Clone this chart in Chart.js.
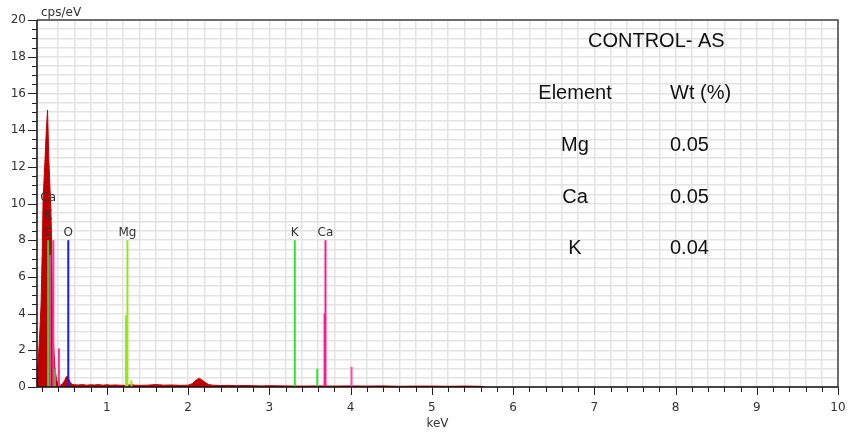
<!DOCTYPE html>
<html>
<head>
<meta charset="utf-8">
<script src="https://cdn.jsdelivr.net/npm/chart.js@4/dist/chart.umd.min.js"></script>
<style>
  body { margin: 0; background: #fff; }
  #wrap { width: 849px; height: 435px; }
</style>
</head>
<body>
<div id="wrap"><canvas id="eds" width="849" height="435"></canvas></div>
<script>
// spectrum (keV -> cps/eV)
var energy = [0.14, 0.15, 0.16, 0.175, 0.19, 0.205, 0.215, 0.24, 0.255, 0.27, 0.285, 0.30, 0.31, 0.32, 0.33, 0.345, 0.36, 0.38, 0.40, 0.43,
    0.46, 0.48, 0.50, 0.515, 0.53, 0.55, 0.57, 0.60, 0.65, 0.70, 0.75, 0.80, 0.85, 0.90, 0.95, 1.00, 1.05, 1.10, 1.15, 1.20,
    1.25, 1.30, 1.35, 1.40, 1.50, 1.60, 1.65, 1.70, 1.80, 1.90, 2.00, 2.05, 2.10, 2.13, 2.16, 2.20, 2.25, 2.30, 2.40, 2.50,
    2.60, 2.70, 2.80, 2.90, 3.00, 3.20, 3.40, 3.60, 3.80, 4.00, 4.20, 4.40, 4.60, 4.80, 5.00, 5.20, 5.40, 5.60, 5.65];
var counts = [0.6, 1.1, 1.8, 3.0, 4.5, 7.5, 10.2, 12.5, 14.0, 15.1, 12.5, 10.8, 9.8, 7.8, 4.2, 2.2, 1.1, 0.4, 0.15, 0.1,
    0.2, 0.35, 0.55, 0.6, 0.45, 0.25, 0.15, 0.12, 0.11, 0.13, 0.1, 0.12, 0.11, 0.13, 0.1, 0.12, 0.1, 0.11, 0.1, 0.09,
    0.1, 0.12, 0.1, 0.09, 0.1, 0.13, 0.12, 0.1, 0.11, 0.09, 0.1, 0.18, 0.38, 0.47, 0.42, 0.28, 0.14, 0.1, 0.08, 0.09,
    0.07, 0.08, 0.07, 0.06, 0.07, 0.06, 0.05, 0.06, 0.05, 0.06, 0.05, 0.06, 0.04, 0.05, 0.05, 0.04, 0.05, 0.04, 0];

// element line markers
var markerKeV = [0.277, 0.302, 0.341, 0.36, 0.41, 0.525, 1.235, 1.253, 1.302, 3.313, 3.59, 3.68, 3.691, 4.012];
var markerHeight = [8.0, 7.2, 8.0, 1.0, 2.1, 8.0, 3.9, 8.0, 0.35, 8.0, 1.0, 4.0, 8.0, 1.1];
var markerColor = ['#2fd82f', '#ff3399', '#ff3399', '#2fd82f', '#ff3399', '#1a1aff', '#99e619', '#99e619', '#99e619',
    '#33e033', '#33e033', '#ff1a8c', '#ff1a8c', '#ff4da6'];

// marker captions (text, keV, stack level)
var captionText = ['C', 'K', 'Ca', 'O', 'Mg', 'K', 'Ca'];
var captionKeV = [0.277, 0.277, 0.277, 0.525, 1.253, 3.313, 3.691];
var captionLevel = [0, 1, 2, 0, 0, 0, 0];

// composition table
var tableTitle = 'CONTROL- AS';
var tableElements = ['Mg', 'Ca', 'K'];
var tableWt = ['0.05', '0.05', '0.04'];

var spectrum = energy.map(function(e, i) { return { x: e, y: counts[i] }; });

var datasets = [];
for (var i = 0; i < markerKeV.length; i++) {
    datasets.push({
        data: [{ x: markerKeV[i], y: 0 }, { x: markerKeV[i], y: markerHeight[i] }],
        borderColor: markerColor[i],
        borderWidth: 2,
        pointRadius: 0,
        fill: false,
        order: 0
    });
}
datasets.push({
    data: spectrum,
    borderColor: '#c00000',
    backgroundColor: '#c00000',
    borderWidth: 1,
    pointRadius: 0,
    tension: 0,
    fill: 'origin',
    order: 1
});

var FONT = '"DejaVu Sans", sans-serif';

var overlay = {
    id: 'overlay',
    afterDraw: function(chart) {
        var ctx = chart.ctx, a = chart.chartArea;
        var xs = chart.scales.x, ys = chart.scales.y;
        ctx.save();

        // frame
        ctx.strokeStyle = '#444';
        ctx.lineWidth = 1.5;
        ctx.beginPath();
        ctx.moveTo(a.left, a.top); ctx.lineTo(a.right, a.top); ctx.lineTo(a.right, a.bottom);
        ctx.stroke();
        ctx.strokeStyle = '#111';
        ctx.lineWidth = 1.5;
        ctx.beginPath();
        ctx.moveTo(a.left, a.top); ctx.lineTo(a.left, a.bottom); ctx.lineTo(a.right, a.bottom);
        ctx.stroke();

        // tick marks
        ctx.strokeStyle = '#222';
        ctx.lineWidth = 1;
        ctx.beginPath();
        for (var v = 0; v <= 20.001; v += 0.5) {
            var py = Math.round(ys.getPixelForValue(v)) + 0.5;
            var len = Math.abs(v / 2 - Math.round(v / 2)) < 1e-6 ? 9 : 5;
            ctx.moveTo(a.left - len, py); ctx.lineTo(a.left, py);
        }
        for (var k = 1; k <= 50; k++) {
            var e = k * 0.2;
            var px = Math.round(xs.getPixelForValue(e)) + 0.5;
            var l2 = k % 5 === 0 ? 8 : 5;
            ctx.moveTo(px, a.bottom); ctx.lineTo(px, a.bottom + l2);
        }
        ctx.stroke();

        // axis titles
        ctx.fillStyle = '#333';
        ctx.font = '12px ' + FONT;
        ctx.textAlign = 'left';
        ctx.textBaseline = 'alphabetic';
        ctx.fillText('cps/eV', 41, 16);
        ctx.textAlign = 'center';
        ctx.fillText('keV', (a.left + a.right) / 2, 427);

        // marker captions
        for (var c = 0; c < captionText.length; c++) {
            var cx = xs.getPixelForValue(captionKeV[c]);
            var cy = ys.getPixelForValue(8) - 4 - captionLevel[c] * 17.5;
            ctx.fillText(captionText[c], cx, cy);
        }

        // table
        ctx.fillStyle = '#111';
        ctx.font = '20px "Liberation Sans", Arial, sans-serif';
        ctx.textAlign = 'left';
        ctx.fillText(tableTitle, 588, 47);
        ctx.textAlign = 'center';
        ctx.fillText('Element', 575, 99);
        ctx.textAlign = 'left';
        ctx.fillText('Wt (%)', 670, 99);
        for (var r = 0; r < tableElements.length; r++) {
            var by = 151 + r * 51.5;
            ctx.textAlign = 'center';
            ctx.fillText(tableElements[r], 575, by);
            ctx.textAlign = 'left';
            ctx.fillText(tableWt[r], 670, by);
        }
        ctx.restore();
    }
};

new Chart(document.getElementById('eds').getContext('2d'), {
    type: 'line',
    data: { datasets: datasets },
    options: {
        responsive: false,
        animation: false,
        devicePixelRatio: 1,
        layout: { padding: { top: 20, right: 11, left: 0, bottom: 0 } },
        plugins: { legend: { display: false }, tooltip: { enabled: false } },
        scales: {
            x: {
                type: 'linear',
                min: 0.14,
                max: 10,
                afterFit: function(s) { s.height = 48; s.paddingLeft = 0; s.paddingRight = 0; },
                grid: { color: '#e3e3e3', lineWidth: 1.5, drawTicks: false },
                border: { display: false },
                ticks: {
                    stepSize: 0.2,
                    autoSkip: false,
                    maxRotation: 0,
                    padding: 14,
                    color: '#333',
                    font: { family: FONT, size: 12 },
                    callback: function(v) {
                        return (v >= 1 && Math.abs(v - Math.round(v)) < 1e-6) ? String(Math.round(v)) : '';
                    }
                }
            },
            y: {
                min: 0,
                max: 20,
                afterFit: function(s) { s.width = 37; s.paddingTop = 0; s.paddingBottom = 0; },
                grid: { color: '#e3e3e3', lineWidth: 1.5, drawTicks: false },
                border: { display: false },
                ticks: {
                    stepSize: 0.5,
                    autoSkip: false,
                    padding: 11,
                    color: '#333',
                    font: { family: FONT, size: 12 },
                    callback: function(v) {
                        return Math.abs(v / 2 - Math.round(v / 2)) < 1e-6 ? String(v) : '';
                    }
                }
            }
        }
    },
    plugins: [overlay]
});
</script>
</body>
</html>
